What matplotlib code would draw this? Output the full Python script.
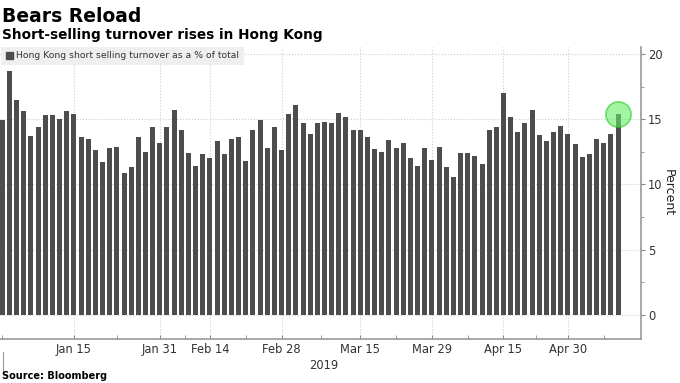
import numpy as np
import pandas as pd
import matplotlib
matplotlib.use('Agg')
from matplotlib import pyplot as plt
from matplotlib.patches import Patch

# 港股卖空成交占比（%），2018-12-31 至 2019-05-10 每个交易日
values = [14.9, 18.7, 16.5, 15.6, 13.7, 14.4, 15.3, 15.3, 15.0, 15.6,
          15.4, 13.6, 13.5, 12.6, 11.7, 12.8, 12.9, 10.9, 11.3, 13.6,
          12.5, 14.4, 13.2, 14.4, 15.7, 14.2, 12.4, 11.4, 12.3, 12.0,
          13.3, 12.3, 13.5, 13.6, 11.8, 14.2, 14.9, 12.8, 14.4, 12.6,
          15.4, 16.1, 14.7, 13.9, 14.7, 14.8, 14.7, 15.5, 15.2, 14.2,
          14.2, 13.6, 12.7, 12.5, 13.4, 12.8, 13.2, 12.0, 11.4, 12.8,
          11.9, 12.9, 11.3, 10.6, 12.4, 12.4, 12.2, 11.6, 14.2, 14.4,
          17.0, 15.2, 14.0, 14.7, 15.7, 13.8, 13.3, 14.0, 14.5, 13.9,
          13.1, 12.1, 12.3, 13.5, 13.2, 13.9, 15.4]

hk_holidays = ['2019-01-01', '2019-02-05', '2019-02-06', '2019-02-07',
               '2019-04-05', '2019-04-19', '2019-04-22', '2019-05-01']
days = pd.bdate_range('2018-12-31', '2019-05-10')
days = days[~days.isin(pd.to_datetime(hk_holidays))]
assert len(days) == len(values)

tick_dates = ['2019-01-15', '2019-01-31', '2019-02-14', '2019-02-28',
              '2019-03-15', '2019-03-29', '2019-04-15', '2019-04-30']
tick_labels = ['Jan 15', 'Jan 31', 'Feb 14', 'Feb 28',
               'Mar 15', 'Mar 29', 'Apr 15', 'Apr 30']
y_ticks = [0, 5, 10, 15, 20]
legend_label = 'Hong Kong short selling turnover as a % of total'

x = np.arange(len(values))
tick_pos = [days.get_loc(pd.Timestamp(d)) for d in tick_dates]
minor_pos = [0] + [(a + b) / 2 for a, b in zip(tick_pos[:-1], tick_pos[1:])] + [tick_pos[-1] + 5]

fig = plt.figure(figsize=(6.8, 3.83), dpi=100)
ax = fig.add_axes([0, 0.1149, 0.9426, 0.7632])

ax.bar(x, values, width=0.7, color='#4d4d4d', zorder=2)
# 最后一根柱子顶部的绿色高亮圆圈
ax.scatter([x[-1]], [values[-1]], s=330, facecolor='#66ee66', alpha=0.6,
           edgecolor='#22cc22', linewidth=1.2, zorder=3)

ax.set_xlim(-0.32, 89.2)
ax.set_ylim(-1.84, 20.55)

ax.set_xticks(tick_pos)
ax.set_xticklabels(tick_labels)
ax.set_xticks(minor_pos, minor=True)
ax.set_yticks(y_ticks)
ax.set_yticks([2.5, 7.5, 12.5, 17.5], minor=True)

ax.yaxis.tick_right()
ax.yaxis.set_label_position('right')
ax.set_ylabel('Percent', rotation=270, fontsize=9, color='#222222', labelpad=9)

ax.tick_params(axis='x', which='both', direction='in', length=3, color='#888888',
               labelsize=8.3, labelcolor='#333333', pad=3)
ax.tick_params(axis='y', which='major', direction='out', length=3, color='#888888',
               labelsize=8.3, labelcolor='#333333', pad=2)
ax.tick_params(axis='y', which='minor', direction='out', length=2, color='#888888')

for s in ['top', 'left']:
    ax.spines[s].set_visible(False)
for s in ['right', 'bottom']:
    ax.spines[s].set_color('#999999')
    ax.spines[s].set_linewidth(1.2)

# 虚线网格
for yv in y_ticks:
    ax.axhline(yv, color='#cccccc', linestyle=':', linewidth=0.8, zorder=1)
for xv in tick_pos:
    ax.axvline(xv, color='#cccccc', linestyle=':', linewidth=0.8, zorder=1)

leg = ax.legend(handles=[Patch(color='#4d4d4d', label=legend_label)],
                loc='upper left', bbox_to_anchor=(0.002, 1.0), borderaxespad=0,
                fontsize=6.7, frameon=True, fancybox=False,
                handlelength=0.75, handleheight=0.75, handletextpad=0.35,
                borderpad=0.5)
leg.get_frame().set_facecolor('#efefef')
leg.get_frame().set_edgecolor('none')
leg.get_frame().set_alpha(1)
for t in leg.get_texts():
    t.set_color('#333333')
leg.set_zorder(5)

fig.text(0.003, 0.9435, 'Bears Reload', fontsize=13.5, fontweight='bold', va='baseline')
fig.text(0.003, 0.8975, 'Short-selling turnover rises in Hong Kong', fontsize=9.8,
         fontweight='bold', va='baseline')
fig.text(0.476, 0.0366, '2019', fontsize=8.3, color='#333333', ha='center', va='baseline')
fig.text(0.003, 0.004, 'Source: Bloomberg', fontsize=7, fontweight='bold', va='bottom')
fig.add_artist(plt.Line2D([0.0045, 0.0045], [1 - 374 / 383, 1 - 352 / 383],
                          color='#999999', linewidth=0.8))

plt.savefig('out.png', dpi=100)
